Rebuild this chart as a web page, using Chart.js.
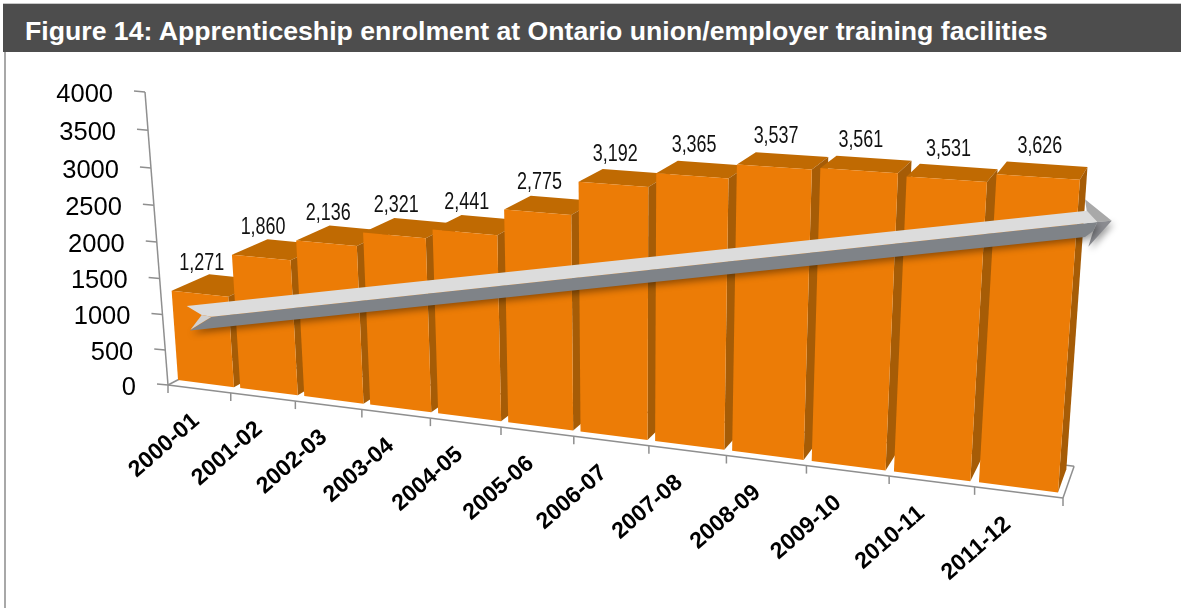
<!DOCTYPE html>
<html lang="en">
<head>
  <meta charset="UTF-8">
  <title>Apprenticeship enrolment</title>
  <script src="https://cdn.jsdelivr.net/npm/chart.js"></script>
  <style>
    html, body {
      margin: 0;
      background: #fff;
      overflow: hidden;
    }
    #frame {
      position: absolute;
      left: 4px;
      top: 52px;
      width: 2px;
      height: 556px;
      background: #a8a8a8;
    }
    #heading {
      position: absolute;
      left: 3px;
      right: 0;
      top: 3px;
      height: 48px;
      border-top: 1px solid #c8c8c8;
      background: #4d4d4d;
      color: #fff;
      font: bold 26.67px "Liberation Sans", Arial, sans-serif;
      line-height: 55px;
      padding-left: 22px;
      white-space: nowrap;
      overflow: hidden;
    }
    #chart {
      position: absolute;
      left: 0;
      top: 0;
    }
  </style>
</head>
<body>
  <div id="heading">Figure 14: Apprenticeship enrolment at Ontario union/employer training facilities</div>
  <div id="frame"></div>
  <canvas id="chart" width="1181" height="608"></canvas>

<script>
const categories = ['2000-01', '2001-02', '2002-03', '2003-04', '2004-05', '2005-06',
                    '2006-07', '2007-08', '2008-09', '2009-10', '2010-11', '2011-12'];
const enrolment = [1271, 1860, 2136, 2321, 2441, 2775, 3192, 3365, 3537, 3561, 3531, 3626];
const yTicks = [0, 500, 1000, 1500, 2000, 2500, 3000, 3500, 4000];

// corners of the perspective planes: [bottom-left, bottom-right, top-right, top-left]
const AXIS_PLANE = [[168, 385], [1063, 498], [1089.5, 148], [145, 92]];
const BAR_PLANE = [[175, 379.6], [1062.5, 493], [1087, 146], [154, 90]];
const DEPTH_VANISH = [1310, -209];
const BAR_DEPTH = 0.033;
const FLOOR_DEPTH = 0.045;

const ORANGE = '#ec7c06';
const ORANGE_TOP = '#c06a02';
const ORANGE_SIDE = '#a65c06';
const AXIS_GREY = '#8f8f8f';

// maps the unit square onto a quad, so flat chart positions land in perspective
function planeMap(q) {
  const [p00, p10, p11, p01] = q;
  const dx1 = p10[0] - p11[0], dx2 = p01[0] - p11[0], sx = p00[0] - p10[0] + p11[0] - p01[0];
  const dy1 = p10[1] - p11[1], dy2 = p01[1] - p11[1], sy = p00[1] - p10[1] + p11[1] - p01[1];
  const den = dx1 * dy2 - dx2 * dy1;
  const g = (sx * dy2 - dx2 * sy) / den;
  const h = (dx1 * sy - sx * dy1) / den;
  const a = p10[0] - p00[0] + g * p10[0], b = p01[0] - p00[0] + h * p01[0];
  const d = p10[1] - p00[1] + g * p10[1], e = p01[1] - p00[1] + h * p01[1];
  return (u, v) => {
    const w = g * u + h * v + 1;
    return [(a * u + b * v + p00[0]) / w, (d * u + e * v + p00[1]) / w];
  };
}

const axisPlane = planeMap(AXIS_PLANE);
const barPlane = planeMap(BAR_PLANE);

function pushBack(p, amount) {
  return [p[0] + (DEPTH_VANISH[0] - p[0]) * amount, p[1] + (DEPTH_VANISH[1] - p[1]) * amount];
}

function fillPoly(ctx, pts, color) {
  ctx.beginPath();
  pts.forEach((p, i) => (i ? ctx.lineTo(p[0], p[1]) : ctx.moveTo(p[0], p[1])));
  ctx.closePath();
  ctx.fillStyle = color;
  ctx.fill();
}

function line(ctx, a, b) {
  ctx.beginPath();
  ctx.moveTo(a[0], a[1]);
  ctx.lineTo(b[0], b[1]);
  ctx.stroke();
}

// text squeezed sideways, the value labels are set narrow
function narrowText(ctx, text, x, y, squeeze) {
  ctx.save();
  ctx.translate(x, y);
  ctx.scale(squeeze, 1);
  ctx.fillText(text, 0, 0);
  ctx.restore();
}

const perspectiveBars = {
  id: 'perspectiveBars',
  beforeDatasetsDraw(chart) {
    const ctx = chart.ctx;
    const area = chart.chartArea;
    const xs = chart.scales.x;
    const ys = chart.scales.y;
    const nx = px => (px - area.left) / area.width;
    const ny = py => (area.bottom - py) / area.height;
    const meta = chart.getDatasetMeta(0);

    ctx.save();

    // floor and axes
    ctx.strokeStyle = AXIS_GREY;
    ctx.lineWidth = 1.5;
    const fl = axisPlane(0, 0), fr = axisPlane(1, 0);
    const bl = pushBack(fl, FLOOR_DEPTH), br = pushBack(fr, FLOOR_DEPTH);
    line(ctx, fl, fr);
    line(ctx, fr, br);
    line(ctx, br, bl);
    line(ctx, bl, fl);
    line(ctx, fl, axisPlane(0, 1));

    ctx.fillStyle = '#000';
    ctx.font = '25.5px "Liberation Sans", Arial, sans-serif';
    ctx.textAlign = 'right';
    ctx.textBaseline = 'middle';
    yTicks.forEach(t => {
      const p = axisPlane(0, ny(ys.getPixelForValue(t)));
      line(ctx, [p[0] - 11, p[1] - 1], p);
      ctx.fillText(String(t), p[0] - 32, p[1] + 3);
    });

    // x ticks sit on the slot edges, category labels hang off the slot centres
    const slot = area.width / categories.length;
    for (let i = 0; i <= categories.length; i++) {
      const p = axisPlane(nx(area.left + slot * i), 0);
      line(ctx, p, [p[0], p[1] + 8]);
    }
    ctx.font = 'bold 23px "Liberation Sans", Arial, sans-serif';
    categories.forEach((c, i) => {
      const p = axisPlane(nx(xs.getPixelForValue(i)), 0);
      ctx.save();
      ctx.translate(p[0] - 3 - i * 0.7, p[1] + 29);
      ctx.rotate(-41 * Math.PI / 180);
      ctx.fillText(c, 0, 0);
      ctx.restore();
    });

    // bars run left to right so each one covers the side of the one before
    meta.data.forEach(bar => {
      const left = nx(bar.x - bar.width / 2), right = nx(bar.x + bar.width / 2);
      const top = ny(bar.y), base = ny(bar.base);
      const tl = barPlane(left, top), tr = barPlane(right, top);
      const bL = barPlane(left, base), bR = barPlane(right, base);
      const tlB = pushBack(tl, BAR_DEPTH), trB = pushBack(tr, BAR_DEPTH), brB = pushBack(bR, BAR_DEPTH);
      fillPoly(ctx, [tl, tlB, trB, tr], ORANGE_TOP);
      fillPoly(ctx, [tr, trB, brB, bR], ORANGE_SIDE);
      fillPoly(ctx, [tl, tr, bR, bL], ORANGE);
    });

    // value labels
    ctx.fillStyle = '#111';
    ctx.font = '23px "Liberation Sans", Arial, sans-serif';
    ctx.textAlign = 'center';
    ctx.textBaseline = 'middle';
    meta.data.forEach((bar, i) => {
      const p = barPlane(nx(bar.x), ny(bar.y));
      narrowText(ctx, enrolment[i].toLocaleString('en-US'), p[0] + 2, p[1] - 30, 0.78);
    });

    drawTrendArrow(ctx);
    ctx.restore();
    return false;
  }
};

function drawTrendArrow(ctx) {
  ctx.save();
  ctx.shadowColor = 'rgba(0,0,0,0.4)';
  ctx.shadowBlur = 7;
  ctx.shadowOffsetX = 2;
  ctx.shadowOffsetY = 3;
  fillPoly(ctx, [[1111.7, 220.7], [1097.3, 221.7], [1093.3, 231], [1088.3, 246.7]], '#8b8c91');
  fillPoly(ctx, [[190, 330.5], [211.7, 316.7], [1097.3, 222], [1093.3, 231], [1085, 237]], '#7f8388');
  ctx.restore();
  fillPoly(ctx, [[186.7, 306], [1086.7, 210.7], [1097.3, 222], [211.7, 316.7], [201.7, 315]], '#dcdcdc');
  fillPoly(ctx, [[201.7, 315], [211.7, 316.7], [190.5, 329.8]], '#d0d0d0');
  fillPoly(ctx, [[1085, 199.3], [1111.7, 220.7], [1097.3, 222], [1086.7, 210.7]], '#a9a9a9');
}

new Chart(document.getElementById('chart'), {
  type: 'bar',
  data: {
    labels: categories,
    datasets: [{
      data: enrolment,
      backgroundColor: ORANGE,
      barPercentage: 0.9,
      categoryPercentage: 1
    }]
  },
  options: {
    responsive: false,
    animation: false,
    layout: { padding: { left: 168, right: 118, top: 92, bottom: 223 } },
    plugins: { legend: { display: false }, tooltip: { enabled: false } },
    scales: {
      x: { display: false },
      y: { display: false, min: 0, max: 4000 }
    }
  },
  plugins: [perspectiveBars]
});
</script>
</body>
</html>
